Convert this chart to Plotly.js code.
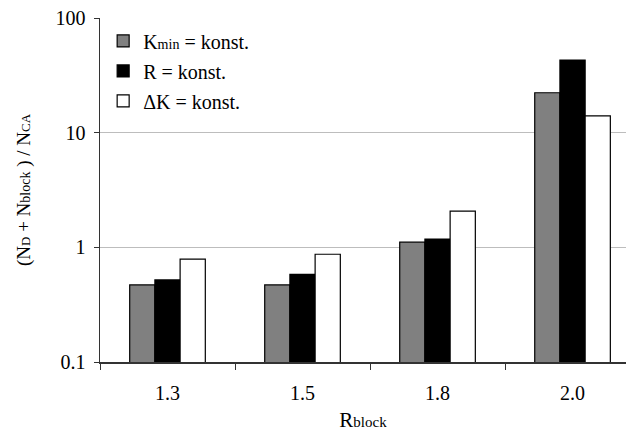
<!DOCTYPE html>
<html>
<head>
<meta charset="utf-8">
<script src="https://cdn.plot.ly/plotly-3.0.1.min.js"></script>
<style>html,body{margin:0;padding:0;background:#fff;}#chart{width:626px;height:432px;}</style>
</head>
<body>
<div id="chart"></div>
<script>
const categories = ["1.3", "1.5", "1.8", "2.0"];
const kminKonst = [0.47, 0.47, 1.11, 22.3];
const rKonst = [0.52, 0.58, 1.18, 43];
const deltaKKonst = [0.79, 0.87, 2.07, 14];
const seriesNames = [
  'K<span style="font-size:14px">min</span> = konst.',
  'R = konst.',
  'ΔK = konst.'
];
const yTickVals = [0.1, 1, 10, 100];
const yTickText = ["0.1", "1", "10", "100"];

const serif = 'Liberation Serif';
const line = {color: '#000', width: 1.2};

const traces = [
  {type: 'bar', name: seriesNames[0], legendgroup: 'a', x: categories, y: kminKonst, marker: {color: '#808080', line: line}},
  {type: 'bar', name: seriesNames[1], legendgroup: 'b', x: categories, y: rKonst, marker: {color: '#000000', line: line}},
  {type: 'bar', name: seriesNames[2], legendgroup: 'c', x: categories, y: deltaKKonst, marker: {color: '#ffffff', line: line}}
];

const layout = {
  width: 626, height: 432,
  margin: {l: 100, r: 0, t: 18, b: 70},
  paper_bgcolor: '#fff', plot_bgcolor: '#fff',
  font: {family: serif, size: 20, color: '#000'},
  barmode: 'group',
  bargap: 0.44,
  bargroupgap: 0,
  showlegend: true,
  legend: {x: 0.006, y: 0.99, xanchor: 'left', yanchor: 'top', bgcolor: 'rgba(0,0,0,0)',
           font: {family: serif, size: 20, color: '#000'}, tracegroupgap: 1, itemwidth: 30},
  xaxis: {
    type: 'category', range: [-0.5, 3.396],
    showline: true, linecolor: '#333', linewidth: 1.5,
    ticks: 'outside', tickson: 'boundaries', ticklen: 6, tickcolor: '#333',
    showgrid: false, zeroline: false,
    ticklabelstandoff: 12,
    tickfont: {family: serif, size: 20, color: '#000'},
    title: {text: 'R<span style="font-size:15px">block</span>', standoff: 14,
            font: {family: serif, size: 21, color: '#000'}}
  },
  yaxis: {
    type: 'log', range: [-1, 2],
    tickvals: yTickVals, ticktext: yTickText,
    showline: true, linecolor: '#333', linewidth: 1.5,
    ticks: 'outside', ticklen: 5, tickcolor: '#333',
    showgrid: true, gridcolor: '#bdbdbd', gridwidth: 1,
    zeroline: false,
    ticklabelstandoff: 4,
    tickfont: {family: serif, size: 20, color: '#000'},
    title: {text: '(N<span style="font-size:13px">D</span> + N<span style="font-size:14px">block</span> ) / N<span style="font-size:13px">CA</span>',
            standoff: 20, font: {family: serif, size: 19, color: '#000'}}
  }
};

Plotly.newPlot('chart', traces, layout, {displayModeBar: false, staticPlot: true});
</script>
</body>
</html>
